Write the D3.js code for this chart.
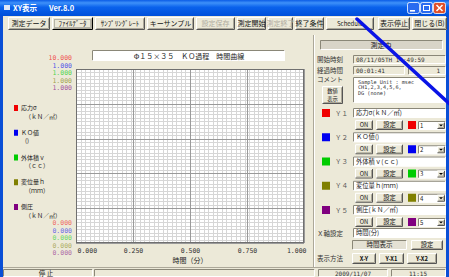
<!DOCTYPE html>
<html>
<head>
<meta charset="utf-8">
<script src="https://cdn.jsdelivr.net/npm/d3@7"></script>
<style>
  body { margin: 0; background: #ECE9D8; }
  svg { display: block; }
  text { font-family: "Noto Sans CJK JP", "Noto Sans", sans-serif; }
  .mono { font-family: "DejaVu Sans Mono", "Liberation Mono", monospace; }
</style>
</head>
<body>
<svg id="win" width="449" height="277"></svg>
<script>
// ---- data ----
var chartTitle = "Φ１５×３５　ＫＯ過程　時間曲線";
var xTitle = "時間（分）";
var xTicks = [0, 0.25, 0.5, 0.75, 1];
var seriesNames = ["応力σ", "ＫＯ値", "外体積ｖ", "変位量ｈ", "側圧"];
var seriesUnits = ["（ｋＮ／㎡）", "()", "（ｃｃ）", "（ｍｍ）", "（ｋＮ／㎡）"];
var seriesFull = ["応力σ(ｋＮ／㎡)", "ＫＯ値()", "外体積ｖ(ｃｃ)", "変位量ｈ(ｍｍ)", "側圧(ｋＮ／㎡)"];
var yMaxLabels = ["10.000", "1.000", "1.000", "1.000", "1.000"];
var yMinLabels = ["0.000", "0.000", "0.000", "0.000", "0.000"];
var toolButtons = ["測定データ", "ﾌｧｲﾙﾃﾞｰﾀ", "ｻﾝﾌﾟﾘﾝｸﾞﾚｰﾄ", "キーサンプル", "設定保存",
                   "測定開始", "測定終了", "終了条件", "Schedule", "表示停止", "閉じる(B)"];
var commentLines = ["Sample Unit : msec", "CH1,2,3,4,5,6,", "DG (none)"];

var seriesColors = ["#F00000", "#0000F0", "#00CC00", "#808000", "#800080"];
var color = d3.scaleOrdinal(seriesNames, seriesColors);

var W = 449, H = 277;
var face = "#ECE9D8";
var svg = d3.select("#win");

svg.append("rect").attr("width", W).attr("height", H).attr("fill", face);

// helpers for the win32 look
function raised(p, x, y, w, h, label, opt) {
  opt = opt || {};
  var g = p.append("g");
  g.append("rect").attr("x", x).attr("y", y).attr("width", w).attr("height", h).attr("fill", face);
  g.append("path").attr("d", "M" + (x + .5) + "," + (y + h - .5) + "V" + (y + .5) + "H" + (x + w - .5))
    .attr("stroke", "#fff").attr("fill", "none");
  g.append("path").attr("d", "M" + (x + .5) + "," + (y + h - .5) + "H" + (x + w - .5) + "V" + (y + .5))
    .attr("stroke", opt.focus ? "#000" : "#555").attr("fill", "none");
  g.append("path").attr("d", "M" + (x + 1.5) + "," + (y + h - 1.5) + "H" + (x + w - 1.5) + "V" + (y + 1.5))
    .attr("stroke", "#ACA899").attr("fill", "none");
  if (opt.focus) {
    g.append("rect").attr("x", x + 2.5).attr("y", y + 2.5).attr("width", w - 5).attr("height", h - 5)
      .attr("fill", "none").attr("stroke", "#333").attr("stroke-dasharray", "1,1").attr("stroke-width", .6);
  }
  if (label) {
    g.append("text").attr("x", x + w / 2).attr("y", y + h / 2 + (opt.fs || 7) * 0.36)
      .attr("text-anchor", "middle").attr("font-size", opt.fs || 7)
      .attr("font-weight", opt.bold ? "bold" : null)
      .attr("fill", opt.disabled ? "#B0ACA0" : "#111").text(label);
  }
  return g;
}
function sunken(p, x, y, w, h, fill) {
  var g = p.append("g");
  g.append("rect").attr("x", x).attr("y", y).attr("width", w).attr("height", h).attr("fill", fill || face);
  g.append("path").attr("d", "M" + (x + .5) + "," + (y + h - .5) + "V" + (y + .5) + "H" + (x + w - .5))
    .attr("stroke", "#8A8778").attr("fill", "none");
  g.append("path").attr("d", "M" + (x + .5) + "," + (y + h - .5) + "H" + (x + w - .5) + "V" + (y + .5))
    .attr("stroke", "#fff").attr("fill", "none");
  return g;
}
function label(p, x, y, s, fs, fill, anchor) {
  return p.append("text").attr("x", x).attr("y", y).attr("font-size", fs)
    .attr("fill", fill || "#222").attr("text-anchor", anchor || "start").text(s);
}

// ---- title bar ----
var defs = svg.append("defs");
var tg = defs.append("linearGradient").attr("id", "tbar").attr("x1", 0).attr("y1", 0).attr("x2", 0).attr("y2", 1);
tg.append("stop").attr("offset", "0%").attr("stop-color", "#0B5CE6");
tg.append("stop").attr("offset", "18%").attr("stop-color", "#3E91F9");
tg.append("stop").attr("offset", "45%").attr("stop-color", "#0A62EC");
tg.append("stop").attr("offset", "100%").attr("stop-color", "#0050DA");
svg.append("rect").attr("width", W).attr("height", 16).attr("fill", "url(#tbar)");
svg.append("rect").attr("x", 0).attr("y", 16).attr("width", 3).attr("height", H - 16).attr("fill", "#0A4FD6");
svg.append("rect").attr("x", W - 3).attr("y", 16).attr("width", 3).attr("height", H - 16).attr("fill", "#0A4FD6");
svg.append("rect").attr("x", 4).attr("y", 5).attr("width", 6).attr("height", 5).attr("fill", "#dfe8f8");
svg.append("text").attr("x", 13).attr("y", 11).attr("font-size", 7.5).attr("font-weight", "bold")
  .attr("fill", "#fff").text("XY表示");
svg.append("text").attr("x", 49).attr("y", 11).attr("font-size", 7.5).attr("font-weight", "bold")
  .attr("fill", "#fff").text("Ver.8.0");
[["#2A6BF0", 407], ["#2A6BF0", 420], ["#E0502A", 433]].forEach(function (b) {
  svg.append("rect").attr("x", b[1] + .5).attr("y", 2.5).attr("width", 12).attr("height", 11).attr("rx", 2)
    .attr("fill", b[0]).attr("stroke", "#fff").attr("stroke-width", .8);
});
svg.append("rect").attr("x", 410).attr("y", 10).attr("width", 5).attr("height", 1.6).attr("fill", "#fff");
svg.append("rect").attr("x", 423.5).attr("y", 5.5).attr("width", 6).attr("height", 5).attr("fill", "none")
  .attr("stroke", "#fff").attr("stroke-width", 1);
svg.append("path").attr("d", "M436.5,5L442.5,11M442.5,5L436.5,11").attr("stroke", "#fff").attr("stroke-width", 1.5);

// ---- toolbar ----
var tbX = [8, 52, 95, 147, 196, 237, 268, 295, 326, 378, 412];
var tbW = [42, 41, 50, 47, 39, 29, 25, 29, 48, 32, 35];
toolButtons.forEach(function (t, i) {
  raised(svg, tbX[i], 17, tbW[i], 13, t, {
    fs: i === 8 ? 6 : 7,
    focus: i === 1,
    disabled: i === 4 || i === 6
  });
});

// ---- chart title ----
sunken(svg, 92, 50, 193, 11, "#fff");
svg.append("text").attr("x", 189).attr("y", 58.5).attr("text-anchor", "middle")
  .attr("font-size", 7).attr("fill", "#222").text(chartTitle);

// ---- plot ----
var plot = { x0: 76, x1: 304, y0: 69, y1: 243 };
var x = d3.scaleLinear().domain([0, 1]).range([plot.x0, plot.x1]);
var y = d3.scaleLinear().domain([0, 1]).range([plot.y1, plot.y0]);

var g = svg.append("g").attr("shape-rendering", "crispEdges");
g.append("rect").attr("x", plot.x0).attr("y", plot.y0).attr("width", plot.x1 - plot.x0)
  .attr("height", plot.y1 - plot.y0).attr("fill", "#fff");

g.selectAll("line.vmin").data(x.ticks(40)).enter().append("line")
  .attr("x1", function (d) { return Math.round(x(d)) + .5; })
  .attr("x2", function (d) { return Math.round(x(d)) + .5; })
  .attr("y1", plot.y0).attr("y2", plot.y1).attr("stroke", "#D6D6D6");
g.selectAll("line.hmin").data(y.ticks(40)).enter().append("line")
  .attr("y1", function (d) { return Math.round(y(d)) + .5; })
  .attr("y2", function (d) { return Math.round(y(d)) + .5; })
  .attr("x1", plot.x0).attr("x2", plot.x1).attr("stroke", "#D6D6D6");
g.selectAll("line.vmaj").data(xTicks).enter().append("line")
  .attr("x1", function (d) { return Math.round(x(d)) + .5; })
  .attr("x2", function (d) { return Math.round(x(d)) + .5; })
  .attr("y1", plot.y0).attr("y2", plot.y1).attr("stroke", "#9A9A9A");
g.selectAll("line.hmaj").data(y.ticks(4)).enter().append("line")
  .attr("y1", function (d) { return Math.round(y(d)) + .5; })
  .attr("y2", function (d) { return Math.round(y(d)) + .5; })
  .attr("x1", plot.x0).attr("x2", plot.x1).attr("stroke", "#9A9A9A");
g.append("rect").attr("x", plot.x0 + .5).attr("y", plot.y0 + .5).attr("width", plot.x1 - plot.x0 - 1)
  .attr("height", plot.y1 - plot.y0 - 1).attr("fill", "none").attr("stroke", "#707070");

// x axis labels through d3 axis
var xAxisG = svg.append("g").attr("transform", "translate(0," + (plot.y1 + 1) + ")");
xAxisG.call(d3.axisBottom(x).tickValues(xTicks).tickFormat(d3.format(".3f")).tickSize(0).tickPadding(4));
xAxisG.select(".domain").remove();
xAxisG.selectAll("text").attr("class", "mono").attr("font-size", 6.5).attr("fill", "#333")
  .attr("text-anchor", function (d, i) { return i === 0 ? "start" : (i === xTicks.length - 1 ? "end" : "middle"); })
  .attr("dx", function (d, i) { return i === 0 ? 1 : (i === xTicks.length - 1 ? 2 : 0); });
label(svg, 190, 263, xTitle, 7, "#222", "middle");

// stacked y range labels
var stackTop = d3.scalePoint().domain(d3.range(5)).range([58, 88]);
var stackBot = d3.scalePoint().domain(d3.range(5)).range([223, 253]);
yMaxLabels.forEach(function (s, i) {
  svg.append("text").attr("class", "mono").attr("x", 72).attr("y", stackTop(i) + 2.3)
    .attr("text-anchor", "end").attr("font-size", 6.5).attr("fill", color(seriesNames[i]))
    .attr("fill-opacity", .7).text(s);
});
yMinLabels.forEach(function (s, i) {
  svg.append("text").attr("class", "mono").attr("x", 72).attr("y", stackBot(i) + 2.3)
    .attr("text-anchor", "end").attr("font-size", 6.5).attr("fill", color(seriesNames[i]))
    .attr("fill-opacity", .6).text(s);
});

// left legend
var legY = d3.scalePoint().domain(seriesNames).range([108, 207]);
seriesNames.forEach(function (n, i) {
  svg.append("rect").attr("x", 14).attr("y", legY(n) - 3).attr("width", 4).attr("height", 6).attr("fill", color(n));
  label(svg, 21, legY(n) + 2.2, n, 6, "#222");
  label(svg, 25, legY(n) + 10.5, seriesUnits[i], 6, "#222");
});

// ---- right panel ----
svg.append("line").attr("x1", 313.5).attr("x2", 313.5).attr("y1", 35).attr("y2", 267).attr("stroke", "#ACA899");
svg.append("line").attr("x1", 314.5).attr("x2", 314.5).attr("y1", 35).attr("y2", 267).attr("stroke", "#fff");

sunken(svg, 320, 40, 123, 10, "#D8D4C8");
label(svg, 381, 47.5, "測定中", 7, "#222", "middle");

label(svg, 317, 61.5, "開始時刻", 6.5, "#333");
sunken(svg, 353, 55, 93, 9);
svg.append("text").attr("class", "mono").attr("x", 356).attr("y", 61.8).attr("font-size", 6).attr("fill", "#333")
  .text("08/11/05TH 14:49:59");
label(svg, 317, 72.5, "経過時間", 6.5, "#333");
sunken(svg, 353, 66, 52, 9);
svg.append("text").attr("class", "mono").attr("x", 356).attr("y", 72.8).attr("font-size", 6).attr("fill", "#333")
  .text("00:01:41");
sunken(svg, 408, 66, 38, 9);
svg.append("text").attr("class", "mono").attr("x", 440).attr("y", 72.8).attr("font-size", 6).attr("fill", "#333")
  .attr("text-anchor", "end").text("1");
label(svg, 317, 82, "コメント", 6.5, "#333");
sunken(svg, 353, 77, 93, 26, "#fff");
commentLines.forEach(function (s, i) {
  svg.append("text").attr("class", "mono").attr("x", 358).attr("y", 83.5 + i * 5.5).attr("font-size", 5.2)
    .attr("fill", "#333").text(s);
});
raised(svg, 322, 86, 21, 18, null);
label(svg, 332.5, 93.3, "数値", 5.3, "#222", "middle");
label(svg, 332.5, 101.2, "表示", 5.3, "#222", "middle");

var rowY = d3.scalePoint().domain(seriesNames).range([113, 210]);
seriesNames.forEach(function (n, i) {
  var ry = rowY(n);
  svg.append("rect").attr("x", 322).attr("y", ry - 4).attr("width", 8).attr("height", 8).attr("fill", color(n));
  label(svg, 335, ry + 2.5, "Ｙ" + "１２３４５"[i], 6.5, "#555");
  sunken(svg, 353, ry - 5, 93, 10, "#fff");
  label(svg, 356, ry + 2.2, seriesFull[i], 6.3, "#222");
  raised(svg, 355, ry + 7, 18, 10, "ON", { fs: 5.8 });
  raised(svg, 376, ry + 7, 27, 10, "設定", { fs: 6.3 });
  svg.append("rect").attr("x", 408).attr("y", ry + 8).attr("width", 8).attr("height", 8).attr("fill", color(n));
  sunken(svg, 418, ry + 8, 28, 9, "#fff");
  label(svg, 420, ry + 14.8, String(i + 1), 6, "#222");
  raised(svg, 437, ry + 9, 8, 7, null);
  svg.append("path").attr("d", "M439," + (ry + 11.5) + "h4l-2,2z").attr("fill", "#000");
});

label(svg, 317, 235.5, "Ｘ軸設定", 6.5, "#333");
sunken(svg, 353, 228, 93, 10, "#fff");
label(svg, 356, 235.3, "時間(分)", 6.3, "#222");
sunken(svg, 352, 240, 55, 10, "#E4E1D4");
label(svg, 379.5, 247.3, "時間表示", 6.5, "#222", "middle");
raised(svg, 411, 240, 32, 10, "設定", { fs: 6.3 });

label(svg, 317, 260.5, "表示方法", 6.5, "#333");
raised(svg, 352, 253, 24, 11, "X-Y", { fs: 5.8, bold: true });
raised(svg, 379, 253, 25, 11, "Y-X1", { fs: 5.8, bold: true });
raised(svg, 407, 253, 30, 11, "Y-X2", { fs: 5.8, bold: true });

// ---- status bar ----
svg.append("line").attr("x1", 3).attr("x2", W - 3).attr("y1", 267.5).attr("y2", 267.5).attr("stroke", "#ACA899");
[[3, 90], [94, 221], [318, 70], [391, 55]].forEach(function (s) { sunken(svg, s[0], 269, s[1], 8); });
label(svg, 46, 275.8, "停 止", 6.5, "#222", "middle");
svg.append("text").attr("class", "mono").attr("x", 353).attr("y", 275.8).attr("text-anchor", "middle")
  .attr("font-size", 6).attr("fill", "#333").text("2009/11/07");
svg.append("text").attr("class", "mono").attr("x", 418).attr("y", 275.8).attr("text-anchor", "middle")
  .attr("font-size", 6).attr("fill", "#333").text("11:15");

// blue marker stroke drawn over the screenshot
svg.append("line").attr("x1", 357).attr("y1", 19).attr("x2", 452).attr("y2", 106)
  .attr("stroke", "#0A14E6").attr("stroke-width", 3.5).attr("stroke-linecap", "round");
</script>
</body>
</html>
